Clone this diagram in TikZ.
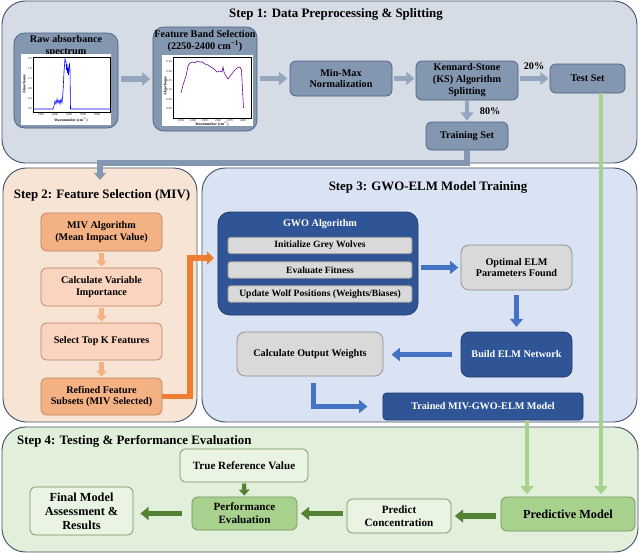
\documentclass[tikz,border=0pt]{standalone}
\usepackage{fontspec}
\setmainfont{Liberation Serif}
\usetikzlibrary{arrows.meta, positioning, calc}
\definecolor{cline}{HTML}{44546A}
\definecolor{cpan1}{HTML}{D6DCE5}
\definecolor{cslate}{HTML}{8497B0}
\definecolor{cslateD}{HTML}{4A5E7D}
\definecolor{carr1}{HTML}{93A5BF}
\definecolor{cpan2}{HTML}{F8E4D4}
\definecolor{corg}{HTML}{F4B183}
\definecolor{corgL}{HTML}{FAD4BE}
\definecolor{corgD}{HTML}{ED7D31}
\definecolor{corgB}{HTML}{B9835E}
\definecolor{cpan3}{HTML}{DAE3F3}
\definecolor{cnavy}{HTML}{2F5597}
\definecolor{cnavyD}{HTML}{1F3864}
\definecolor{cblue}{HTML}{4472C4}
\definecolor{cgrey}{HTML}{D9D9D9}
\definecolor{cgreyD}{HTML}{8C8C8C}
\definecolor{cpan4}{HTML}{E2EFDA}
\definecolor{cgrnM}{HTML}{A9D18E}
\definecolor{cgrnL}{HTML}{EAF4E3}
\definecolor{cgrnD}{HTML}{548235}
\definecolor{cgrnB}{HTML}{6F9160}

\begin{document}
\begin{tikzpicture}[x=0.03cm, y=-0.03cm,
  panel/.style={draw=cline, line width=0.8pt, rounded corners=20pt, fill=#1},
  ttl/.style={font=\fontsize{11}{13}\selectfont\bfseries},
  box/.style={draw=#1, line width=0.6pt, rounded corners=5pt, align=center,
              font=\fontsize{8.7}{10.2}\selectfont\bfseries, inner sep=1pt},
  sbox/.style={box=cslateD, fill=cslate},
  obox/.style={box=corgB, fill=#1},
  gbox/.style={box=cgreyD, fill=cgrey},
  nbox/.style={box=cnavyD, fill=cnavy, text=white},
  vbox/.style={box=cgrnB, fill=#1, font=\fontsize{9.5}{11}\selectfont\bfseries},
  blk/.style={-{Triangle[length=7pt, width=11pt]}, line width=4.4pt, draw=#1},
  tck/.style={font=\fontsize{2.5}{3}\selectfont, inner sep=0pt},
  axl/.style={font=\fontsize{3.2}{4}\selectfont\bfseries, inner sep=0pt},
  pct/.style={font=\fontsize{8.7}{10}\selectfont\bfseries}
]
\useasboundingbox (0,0) rectangle (640,553);

%% ── Panels
\node[panel=cpan1, minimum width=19.05cm, minimum height=4.86cm] (P1) at (319.5,82) {};
\node[panel=cpan2, minimum width=5.82cm, minimum height=7.62cm] (P2) at (100,295) {};
\node[panel=cpan3, minimum width=13.05cm, minimum height=7.62cm] (P3) at (419.5,295) {};
\node[panel=cpan4, minimum width=19.08cm, minimum height=3.75cm] (P4) at (320,489.5) {};

\node[ttl] (t1) at (336,14) {Step 1: Data Preprocessing \& Splitting};
\node[ttl] (t2) at (102,195) {Step 2: Feature Selection (MIV)};
\node[ttl] (t3) at (428,187) {Step 3: GWO-ELM Model Training};
\node[ttl, anchor=west] (t4) at (13,441) {Step 4: Testing \& Performance Evaluation};

%% ── Step 1: spectra
\node[sbox, rounded corners=9pt, minimum width=3.12cm, minimum height=2.85cm] (R) at (66,80.5) {};
\node[sbox, draw=none, fill=none, anchor=north] (Rt) at (66,34) {Raw absorbance\\spectrum};
\node[sbox, rounded corners=9pt, minimum width=3.12cm, minimum height=3.12cm] (B) at (205,79) {};
\node[sbox, draw=none, fill=none, anchor=north] (Bt) at (205,29) {Feature Band Selection\\(2250-2400 cm\textsuperscript{−1})};

% raw spectrum plot
\fill[white] (21,54) rectangle (111,125);
\draw[line width=0.2pt] (33,57) rectangle (110,112);
\foreach \v/\y in {0.0/109, 0.4/99, 0.8/89, 1.2/79, 1.6/69, 2.0/59}
  \node[tck, anchor=east] at (32,\y) {\v};
\foreach \v/\x in {1500/41, 2000/55, 2500/69, 3000/83, 3500/97}
  \node[tck] at (\x,114.5) {\v};
\node[axl, rotate=90] at (24,84) {Absorbance};
\node[axl] at (71,120) {Wavenumber (cm\textsuperscript{−1})};
\draw[blue, line width=0.5pt] (34,109) -- (53,109) -- (54,106) -- (55,101) -- (56,104)
  -- (57,99) -- (58,103) -- (59,100) -- (60,104) -- (61,99) -- (62,103) -- (63,92)
  -- (64,72) -- (65,59) -- (66,62) -- (66.5,70) -- (67,64) -- (67.5,73) -- (68,68)
  -- (68.5,75) -- (69,66) -- (69.5,64) -- (70,70) -- (70.5,109) -- (110,109);

% feature band plot
\fill[white] (162,55) rectangle (253,126);
\draw[line width=0.2pt] (173,57) rectangle (251,118);
\foreach \v/\y in {0.00/109, 0.05/100, 0.10/90, 0.15/81, 0.20/72, 0.25/62}
  \node[tck, anchor=east] at (172,\y) {\v};
\foreach \v/\x in {2250/181, 2280/193, 2310/205, 2340/218, 2370/230, 2400/243}
  \node[tck] at (\x,120.5) {\v};
\node[axl, rotate=90] at (165,86) {Absorbance};
\node[axl] at (212,124) {Wavenumber (cm\textsuperscript{−1})};
\draw[violet!80!blue, line width=0.5pt] (181,93) -- (183,85) -- (185,79) -- (186,76)
  -- (188,66) -- (190,63) -- (193,62) -- (195,63) -- (197,61) -- (199,62) -- (202,62)
  -- (205,64) -- (208,65) -- (211,67) -- (214,69) -- (217,72) -- (220,71) -- (222,72)
  -- (223,67) -- (224,72) -- (226,76) -- (228,79) -- (231,75) -- (234,71) -- (237,68)
  -- (240,67) -- (241.5,70) -- (242.5,90) -- (243.5,108);

%% ── Step 1: boxes
\node[sbox, minimum width=3.06cm, minimum height=1.05cm] (N) at (341,78.5) {Min-Max\\Normalization};
\node[sbox, minimum width=3.06cm, minimum height=1.17cm] (K) at (467,80.5) {Kennard-Stone\\(KS) Algorithm\\Splitting};
\node[sbox, minimum width=2.25cm, minimum height=0.87cm] (T) at (587.5,78.5) {Test Set};
\node[sbox, minimum width=2.46cm, minimum height=0.84cm] (Tr) at (467,136) {Training Set};

\draw[blk=carr1, shorten <=2pt, shorten >=2pt] (R.east |- B) -- (B.west);
\draw[blk=carr1, shorten <=2pt, shorten >=2pt] (B.east |- N) -- (N.west);
\draw[blk=carr1, shorten <=1pt, shorten >=1pt] (N.east) -- (N.east -| K.west);
\draw[blk=carr1, shorten <=1pt, shorten >=1pt] (K.east |- T) -- (T.west)
  node[pct, midway, above=2pt] {20\%};
\draw[blk=carr1, line width=3.4pt, shorten >=1pt] (K.south) -- (Tr.north)
  node[pct, midway, right=6pt] {80\%};

%% ── Step 2: MIV
\node[obox=corg, minimum width=3.63cm, minimum height=1.14cm] (miv) at (101.5,232) {MIV Algorithm\\(Mean Impact Value)};
\node[obox=corgL, minimum width=3.63cm, minimum height=1.14cm] (calc) at (101.5,287) {Calculate Variable\\Importance};
\node[obox=corgL, minimum width=3.63cm, minimum height=1.11cm] (sel) at (101.5,341.5) {Select Top K Features};
\node[obox=corg, minimum width=3.63cm, minimum height=1.11cm] (ref) at (101.5,396.5) {Refined Feature\\Subsets (MIV Selected)};
\foreach \a/\b in {miv/calc, calc/sel, sel/ref}
  \draw[blk=corg, line width=3.6pt, -{Triangle[length=5pt, width=9pt]}, shorten <=1pt, shorten >=1pt] (\a.south) -- (\b.north);

%% ── Step 3: GWO-ELM
\node[nbox, rounded corners=10pt, minimum width=6.0cm, minimum height=3.09cm] (gwo) at (318,263.5) {};
\node[nbox, draw=none, fill=none] (gwot) at (320,224) {GWO Algorithm};
\node[gbox, rounded corners=2pt, minimum width=5.52cm, minimum height=0.5cm, font=\fontsize{8.2}{9}\selectfont\bfseries] (g1) at (320,245.5) {Initialize Grey Wolves};
\node[gbox, rounded corners=2pt, minimum width=5.52cm, minimum height=0.5cm, font=\fontsize{8.2}{9}\selectfont\bfseries] (g2) at (320,270) {Evaluate Fitness};
\node[gbox, rounded corners=2pt, minimum width=5.52cm, minimum height=0.5cm, font=\fontsize{8.2}{9}\selectfont\bfseries] (g3) at (320,294) {Update Wolf Positions (Weights/Biases)};
\node[gbox, rounded corners=7pt, minimum width=3.33cm, minimum height=1.35cm] (opt) at (516.5,267.5) {Optimal ELM\\Parameters Found};
\node[nbox, rounded corners=7pt, minimum width=3.33cm, minimum height=1.35cm] (bld) at (516.5,354.5) {Build ELM Network};
\node[gbox, rounded corners=7pt, minimum width=4.38cm, minimum height=1.32cm] (outw) at (310,354) {Calculate Output Weights};
\node[nbox, rounded corners=3pt, minimum width=6.0cm, minimum height=0.81cm] (trn) at (483,406.5) {Trained MIV-GWO-ELM Model};

\draw[blk=cblue, shorten <=2pt, shorten >=2pt] (gwo.east |- opt) -- (opt.west);
\draw[blk=cblue, shorten <=4pt, shorten >=4pt] (opt.south) -- (bld.north);
\draw[blk=cblue, shorten <=7pt, shorten >=7pt] (bld.west) -- (bld.west -| outw.east);
\draw[blk=cblue, line width=5pt, shorten <=6pt, shorten >=13pt] ([xshift=3pt]outw.south) |- (trn.west);

%% ── Connectors between steps
\coordinate (k1) at (100,163);
\coordinate (k2) at (100,180);
\draw[blk=cslate, line width=4.6pt, -{Triangle[length=6pt, width=10pt]}] (Tr.south) |- (k1) -- (k2);
\coordinate (o1) at (190,258);
\coordinate (o2) at (214,258);
\draw[blk=corgD, line width=4.6pt, -{Triangle[length=6pt, width=11pt]}] (ref.east) -| (o1) -- (o2);

%% ── Step 4: Testing
\node[vbox=cgrnL, minimum width=3.84cm, minimum height=0.99cm] (tru) at (244,465.5) {True Reference Value};
\node[vbox=cgrnM, minimum width=3.15cm, minimum height=0.99cm] (perf) at (244.5,513.5) {Performance\\Evaluation};
\node[vbox=cgrnL, minimum width=3.09cm, minimum height=1.44cm, font=\fontsize{10.5}{12}\selectfont\bfseries] (fin) at (81.5,511) {Final Model\\Assessment \&\\Results};
\node[vbox=cgrnL, minimum width=3.12cm, minimum height=1.02cm] (pred) at (399,516) {Predict\\Concentration};
\node[vbox=cgrnM, minimum width=4.02cm, minimum height=1.02cm, font=\fontsize{10.5}{12}\selectfont\bfseries] (pm) at (568,514) {Predictive Model};

\coordinate (tsb) at (601,93);
\coordinate (tmb) at (527,420);
\draw[blk=cgrnM, line width=3.8pt, shorten >=2pt] (tsb) -- (tsb |- pm.north);
\draw[blk=cgrnM, line width=3.8pt, shorten >=2pt] (tmb) -- (tmb |- pm.north);

\draw[blk=cgrnD, line width=5pt, shorten <=4pt, shorten >=3pt] (pm.west |- pred) -- (pred.east);
\draw[blk=cgrnD, line width=5pt, shorten <=3pt, shorten >=3pt] (pred.west |- perf) -- (perf.east);
\draw[blk=cgrnD, line width=5pt, shorten <=8pt, shorten >=6pt] (perf.west) -- (perf.west -| fin.east);
\draw[blk=cgrnD, line width=3.6pt, -{Triangle[length=5pt, width=9pt]}, shorten <=1pt, shorten >=1pt] (tru.south) -- (perf.north);

\end{tikzpicture}
\end{document}
